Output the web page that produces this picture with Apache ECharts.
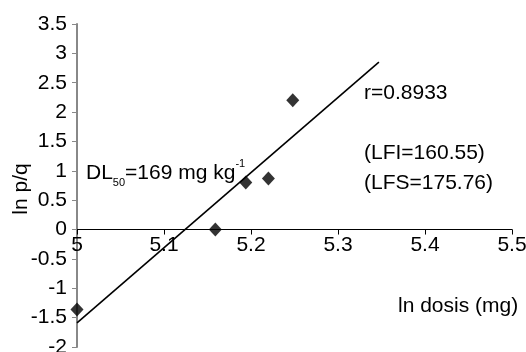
<!DOCTYPE html>
<html>
<head>
<meta charset="utf-8">
<script src="https://cdn.jsdelivr.net/npm/echarts@6/dist/echarts.min.js"></script>
<style>
  html, body { margin: 0; padding: 0; background: #fff; }
  #chart { width: 526px; height: 352px; }
</style>
</head>
<body>
<div id="chart"></div>
<script>
// observed points (ln dose, ln p/q)
const lnDose = [5.0, 5.159, 5.194, 5.22, 5.248];
const lnPQ = [-1.36, 0.0, 0.8, 0.87, 2.2];
// fitted regression line end points
const fitX = [5.0, 5.347];
const fitY = [-1.59, 2.85];

const yTicks = { min: -2, max: 3.5, interval: 0.5 };
const xTicks = { min: 5, max: 5.5, interval: 0.1 };

const font = 'Liberation Sans, Arial, sans-serif';
const fs = 21;
const gridTop = 24, gridBottom = 5, H = 352;
// move x axis (with its labels) up to y = 0
const plotH = H - gridTop - gridBottom;
const xOffset = -plotH * (0 - yTicks.min) / (yTicks.max - yTicks.min);

const chart = echarts.init(document.getElementById('chart'));

const option = {
  animation: false,
  grid: { left: 77, right: 14, top: gridTop, bottom: gridBottom, containLabel: false, outerBoundsMode: 'none' },
  xAxis: {
    type: 'value',
    min: xTicks.min, max: xTicks.max, interval: xTicks.interval,
    offset: xOffset,
    axisLine: { onZero: false, lineStyle: { color: '#000', width: 1 } },
    axisTick: { show: true, length: 5, lineStyle: { color: '#000' } },
    axisLabel: { color: '#000', fontSize: fs, fontFamily: font, margin: 5,
      formatter: v => String(+v.toFixed(1)) },
    splitLine: { show: false }
  },
  yAxis: {
    type: 'value',
    min: yTicks.min, max: yTicks.max, interval: yTicks.interval,
    axisLine: { show: true, lineStyle: { color: '#888', width: 2 } },
    axisTick: { show: true, length: 5, lineStyle: { color: '#888' } },
    axisLabel: { color: '#000', fontSize: fs, fontFamily: font, margin: 10 },
    splitLine: { show: false }
  },
  series: [
    {
      type: 'line',
      data: fitX.map((x, i) => [x, fitY[i]]),
      symbol: 'none',
      lineStyle: { color: '#000', width: 1.6 },
      z: 2
    },
    {
      type: 'scatter',
      data: lnDose.map((x, i) => [x, lnPQ[i]]),
      symbol: 'diamond',
      symbolSize: [13, 14],
      itemStyle: { color: '#000' },
      z: 3
    }
  ],
  graphic: [
    { type: 'text', x: 21, y: 189, rotation: Math.PI / 2,
      style: { text: 'ln p/q', fill: '#000', font: fs + 'px ' + font, align: 'center', verticalAlign: 'middle' } },
    { type: 'text', left: 398, top: 296,
      style: { text: 'ln dosis (mg)', fill: '#000', font: fs + 'px ' + font } },
    { type: 'text', left: 364, top: 83,
      style: { text: 'r=0.8933', fill: '#000', font: fs + 'px ' + font } },
    { type: 'text', left: 364, top: 143,
      style: { text: '(LFI=160.55)', fill: '#000', font: fs + 'px ' + font } },
    { type: 'text', left: 364, top: 173,
      style: { text: '(LFS=175.76)', fill: '#000', font: fs + 'px ' + font } },
    { type: 'text', left: 86, top: 158,
      style: {
        text: '{m|DL}{sub|50}{m|=169 mg kg}{sup|-1}',
        rich: {
          m: { fontSize: fs, fontFamily: font, fill: '#000', verticalAlign: 'bottom', lineHeight: 26 },
          sub: { fontSize: 11, fontFamily: font, fill: '#000', verticalAlign: 'bottom', lineHeight: 26, padding: [0, 0, -4, 0] },
          sup: { fontSize: 11, fontFamily: font, fill: '#000', verticalAlign: 'top', lineHeight: 26 }
        }
      } }
  ]
};
chart.setOption(option);
</script>
</body>
</html>
